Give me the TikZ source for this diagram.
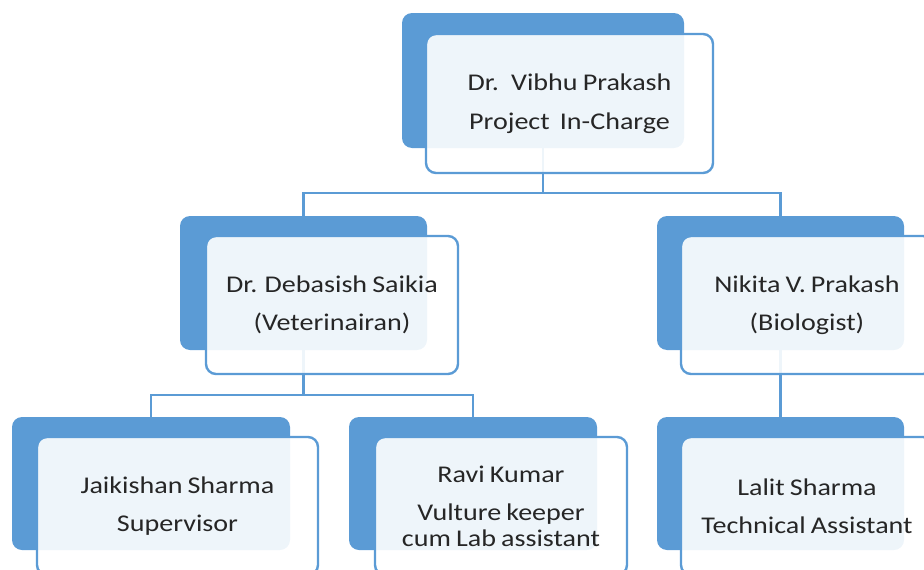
\documentclass[tikz,border=0pt]{standalone}
\usepackage{fontspec}
\setmainfont{Carlito}[FakeStretch=1.17,WordSpace=0.8]
\definecolor{orgblue}{HTML}{5B9BD5}
\definecolor{orgtext}{HTML}{262626}
\tikzset{
  backbox/.style={fill=orgblue, rounded corners=10pt, inner sep=0pt},
  frontbox/.style={draw=orgblue, line width=2.4pt, fill=white, fill opacity=0.9,
    text opacity=1, rounded corners=10pt, align=center, inner sep=0pt,
    text=orgtext, font=\fontsize{24}{38.5}\selectfont},
  link/.style={draw=orgblue, line width=2.7pt},
}
\begin{document}
\begin{tikzpicture}[x=1pt,y=-1pt]
  \clip (0,0) rectangle (924,570);
  % Back boxes
  \node[backbox, minimum width=282pt, minimum height=135pt] (pi-back) at (543,80.5) {};
  \node[backbox, minimum width=247pt, minimum height=134pt] (deb-back) at (303.5,283) {};
  \node[backbox, minimum width=247pt, minimum height=134pt] (nik-back) at (780.5,283) {};
  \node[backbox, minimum width=278pt, minimum height=133pt] (jai-back) at (151,483.5) {};
  \node[backbox, minimum width=248pt, minimum height=133pt] (ravi-back) at (473,483.5) {};
  \node[backbox, minimum width=247pt, minimum height=133pt] (lalit-back) at (780.5,483.5) {};
  % Connectors
  \coordinate (bus1) at (543,193);
  \coordinate (bus2) at (303.5,395);
  \draw[link] (pi-back.south) -- (bus1);
  \draw[link] (deb-back.north) |- (bus1) -| (nik-back.north);
  \draw[link] (deb-back.south) -- (bus2);
  \draw[link] (jai-back.north) |- (bus2) -| (ravi-back.north);
  \draw[link] (nik-back.south) -- (lalit-back.north);
  % Front boxes
  \node[frontbox, minimum width=287pt, minimum height=139pt] (pi) at (569.5,103.5)
    {Dr.~ Vibhu Prakash\\Project~ In-Charge};
  \node[frontbox, minimum width=252pt, minimum height=138pt] (deb) at (332,305)
    {Dr. Debasish Saikia\\(Veterinairan)};
  \node[frontbox, minimum width=252pt, minimum height=138pt] (nik) at (807,305)
    {Nikita V. Prakash\\(Biologist)};
  \node[frontbox, minimum width=281pt, minimum height=138pt] (jai) at (177.5,506)
    {Jaikishan Sharma\\Supervisor};
  \node[frontbox, minimum width=252pt, minimum height=138pt,
    font=\fontsize{24}{26}\selectfont] (ravi) at (501,506)
    {Ravi Kumar\\[12pt]Vulture keeper\\cum Lab assistant};
  \node[frontbox, minimum width=252pt, minimum height=138pt] (lalit) at (807,506)
    {Lalit Sharma\\Technical Assistant};
\end{tikzpicture}
\end{document}
